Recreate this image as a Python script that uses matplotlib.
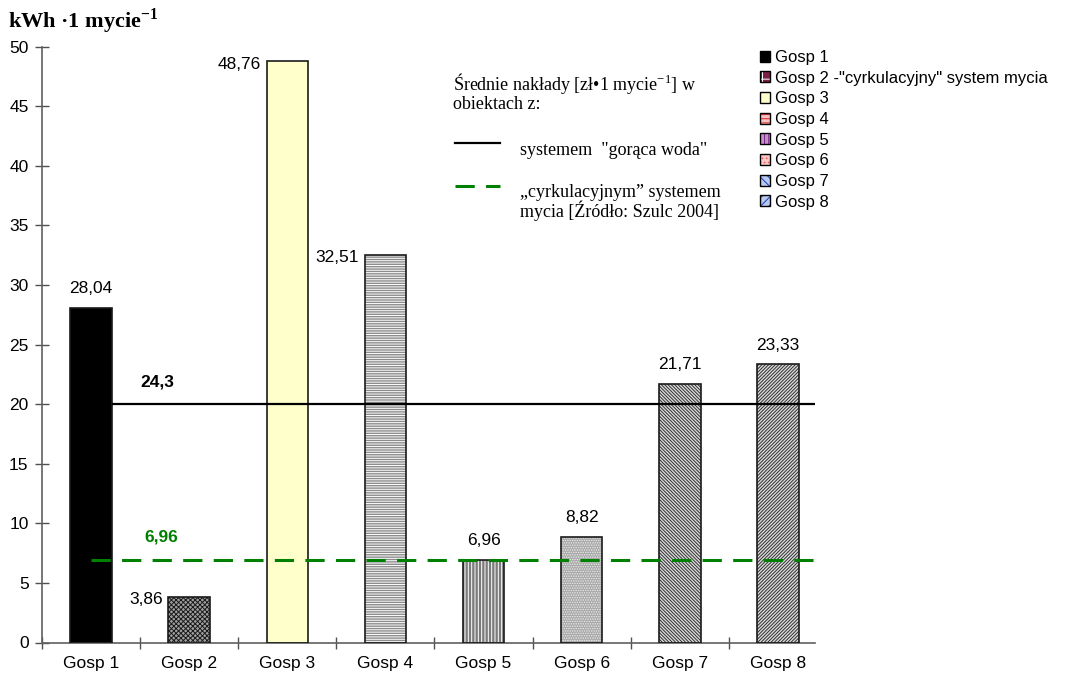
import matplotlib
matplotlib.use("Agg")
import matplotlib.pyplot as plt
from matplotlib.patches import Patch
from matplotlib.lines import Line2D
from matplotlib.legend_handler import HandlerTuple

plt.rcParams['font.family'] = ['Liberation Sans', 'DejaVu Sans']
plt.rcParams['hatch.linewidth'] = 0.7
plt.rcParams['mathtext.fontset'] = 'custom'
plt.rcParams['mathtext.rm'] = 'Liberation Serif'
plt.rcParams['mathtext.bf'] = 'Liberation Serif:bold'

# ---- data ----
categories = ['Gosp 1', 'Gosp 2', 'Gosp 3', 'Gosp 4', 'Gosp 5', 'Gosp 6', 'Gosp 7', 'Gosp 8']
values = [28.04, 3.86, 48.76, 32.51, 6.96, 8.82, 21.71, 23.33]
value_labels = ['28,04', '3,86', '48,76', '32,51', '6,96', '8,82', '21,71', '23,33']
label_side = ['top', 'left', 'left', 'left', 'top', 'top', 'top', 'top']
legend_labels = ['Gosp 1', 'Gosp 2 -"cyrkulacyjny" system mycia', 'Gosp 3', 'Gosp 4',
                 'Gosp 5', 'Gosp 6', 'Gosp 7', 'Gosp 8']
hot_level = 20.0
hot_label = '24,3'
circ_level = 6.96
circ_label = '6,96'
yticks = [0, 5, 10, 15, 20, 25, 30, 35, 40, 45, 50]

# ---- styles ----
bar_face = ['#000000', '#a0a0a0', '#ffffcc', '#8c8c8c', '#7c7c7c', '#a8a8a8', '#dadada', '#dadada']
bar_hatch = [None, 'xxxxxxx', None, '-------', '|||||', '.......', '\\' * 10, '/' * 10]
bar_hcol = ['#000000', '#1a1a1a', '#000000', '#ffffff', '#ffffff', '#ececec', '#303030', '#303030']

leg_face = ['#000000', '#7a1f45', '#ffffcc', '#f6c0c0', '#c890c8', '#ffc8c8', '#b8c8f0', '#b8c8f0']
leg_hatch = [None, '++', None, '----', '||||', '....', '\\\\\\\\', '////']
leg_hcol = ['#000000', '#ffffff', '#000000', '#d02020', '#702080', '#e06060', '#1040b0', '#1040b0']

W, H = 1082, 681
fig = plt.figure(figsize=(W / 100, H / 100), dpi=100)
ax = fig.add_axes([41.8 / W, 1 - 642.5 / H, 773.2 / W, (642.5 - 46.7) / H])

x = list(range(len(categories)))
bw = 0.42
for xi, v, fc, h, hc in zip(x, values, bar_face, bar_hatch, bar_hcol):
    ax.bar(xi, v, width=bw, color=fc, edgecolor=hc, hatch=h, linewidth=0, zorder=2)
ax.bar(x, values, width=bw, fill=False, edgecolor='#1a1a1a', linewidth=1.2, zorder=3)

xright = 7.376
ax.hlines(hot_level, bw / 2, xright, color='black', linewidth=1.6, zorder=4)
ax.hlines(circ_level, 0, xright, color='#008000', linewidth=2.2,
          linestyles=(0, (6.3, 3.7)), zorder=4)

for xi, v, lab, side in zip(x, values, value_labels, label_side):
    if side == 'top':
        ax.annotate(lab, (xi, v), xytext=(0, 14), textcoords='offset points',
                    ha='center', va='center', fontsize=12.5)
    else:
        ax.annotate(lab, (xi - bw / 2, v), xytext=(-4, -2), textcoords='offset points',
                    ha='right', va='center', fontsize=12.5)

ax.annotate(hot_label, (0.68, hot_level), xytext=(0, 16), textcoords='offset points',
            ha='center', va='center', fontsize=12.5, fontweight='bold')
ax.annotate(circ_label, (0.72, circ_level), xytext=(0, 16), textcoords='offset points',
            ha='center', va='center', fontsize=12.5, fontweight='bold', color='#008000')

ax.set_xlim(-0.5, xright)
ax.set_ylim(0, 50)
ax.set_yticks(yticks)
ax.set_yticklabels([str(t) for t in yticks], fontsize=12.5)
ax.set_xticks(x)
ax.set_xticklabels(categories, fontsize=12.5)
ax.set_xticks([i + 0.5 for i in x[:-1]] + [-0.5], minor=True)
ax.tick_params(axis='x', which='major', length=0, pad=10)
ax.tick_params(axis='x', which='minor', direction='inout', length=9, color='#505050', width=1)
ax.tick_params(axis='y', direction='inout', length=10, color='#505050', width=1, pad=4.5)
for s in ['top', 'right']:
    ax.spines[s].set_visible(False)
for s in ['left', 'bottom']:
    ax.spines[s].set_color('#606060')
    ax.spines[s].set_linewidth(1.2)


def fx(px):
    return px / W


def fy(py):
    return 1 - py / H


serif = 'Liberation Serif'

# y-axis title with superscript
fig.text(fx(8), fy(28), r'kWh ·1 mycie$^{\mathbf{-1}}$', fontsize=16, fontweight='bold',
         family=serif, va='baseline', ha='left')

# explanatory text block
fig.text(fx(453), fy(90), r'Średnie nakłady [zł•1 mycie$^{-1}$] w', fontsize=13,
         family=serif, va='baseline', ha='left')
fig.text(fx(453), fy(109), 'obiektach z:', fontsize=13, family=serif, va='baseline', ha='left')
fig.add_artist(Line2D([fx(455), fx(500)], [fy(143), fy(143)], color='black', linewidth=1.6))
fig.text(fx(520), fy(155), 'systemem  "gorąca woda"', fontsize=13, family=serif,
         va='baseline', ha='left')
fig.add_artist(Line2D([fx(455), fx(500)], [fy(186), fy(186)], color='#008000', linewidth=2.2,
                      linestyle=(0, (6.3, 3.7))))
fig.text(fx(520), fy(197), '„cyrkulacyjnym” systemem', fontsize=13, family=serif,
         va='baseline', ha='left')
fig.text(fx(520), fy(217), 'mycia [Źródło: Szulc 2004]', fontsize=13, family=serif,
         va='baseline', ha='left')

handles = []
for fc, h, hc in zip(leg_face, leg_hatch, leg_hcol):
    handles.append((Patch(facecolor=fc, edgecolor=hc, hatch=h, linewidth=0),
                    Patch(fill=False, edgecolor='black', linewidth=1)))
fig.legend(handles, legend_labels, handler_map={tuple: HandlerTuple(ndivide=1)},
           loc='upper left', bbox_to_anchor=(fx(760), fy(50)), frameon=False,
           fontsize=12, handlelength=0.62, handleheight=0.62, handletextpad=0.3,
           labelspacing=0.34, borderaxespad=0, borderpad=0)

fig.savefig('out.png', dpi=100)
